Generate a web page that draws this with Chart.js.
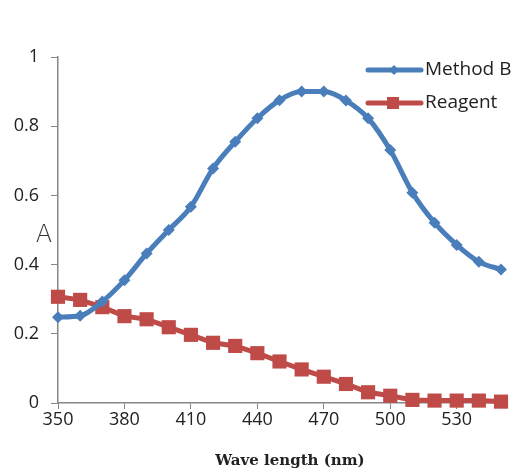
<!DOCTYPE html>
<html>
<head>
<meta charset="utf-8">
<script src="https://cdn.jsdelivr.net/npm/chart.js@4.4.0/dist/chart.umd.min.js"></script>
<style>
  html, body { margin: 0; padding: 0; background: #fff; }
  #wrap { width: 513px; height: 473px; }
</style>
</head>
<body>
<div id="wrap"><canvas id="chart" width="513" height="473"></canvas></div>
<script>
//wavelengths (nm)
const wavelengths = [350, 360, 370, 380, 390, 400, 410, 420, 430, 440, 450,
  460, 470, 480, 490, 500, 510, 520, 530, 540, 550];

//absorbance values
const methodB = [0.248, 0.252, 0.293, 0.355, 0.432, 0.500, 0.567, 0.678, 0.755, 0.823, 0.875,
  0.900, 0.900, 0.874, 0.823, 0.731, 0.608, 0.521, 0.457, 0.408, 0.386];
const reagent = [0.307, 0.298, 0.277, 0.251, 0.242, 0.219, 0.197, 0.174, 0.165, 0.144, 0.120,
  0.097, 0.076, 0.055, 0.031, 0.021, 0.009, 0.007, 0.007, 0.007, 0.004];

const xTicks = [350, 380, 410, 440, 470, 500, 530];
const yTicks = [0, 0.2, 0.4, 0.6, 0.8, 1];

const BLUE = "#4a7ebb";
const RED = "#be4b48";
const AXIS = "#868686";

//legend, "A" label and x title drawn by hand
const extras = {
  id: "extras",
  afterDraw(chart) {
    const c = chart.ctx;
    c.save();
    const rows = [
      { label: "Method B", color: BLUE, y: 70, style: "diamond" },
      { label: "Reagent", color: RED, y: 103, style: "square" }
    ];
    rows.forEach((r) => {
      c.strokeStyle = r.color;
      c.lineWidth = 5;
      c.lineCap = "round";
      c.beginPath();
      c.moveTo(368, r.y);
      c.lineTo(421, r.y);
      c.stroke();
      c.fillStyle = r.color;
      if (r.style === "square") {
        c.fillRect(387, r.y - 6, 12, 12);
      } else {
        c.beginPath();
        c.moveTo(394, r.y - 5);
        c.lineTo(399, r.y);
        c.lineTo(394, r.y + 5);
        c.lineTo(389, r.y);
        c.closePath();
        c.fill();
      }
      c.fillStyle = "#222";
      c.font = "19px 'Open Sans'";
      c.textBaseline = "middle";
      c.textAlign = "left";
      c.fillText(r.label, 425, r.y);
    });
    c.font = "300 24px 'DejaVu Sans'";
    c.fillStyle = "#333";
    c.textAlign = "center";
    c.textBaseline = "alphabetic";
    c.fillText("A", 44, 242);
    c.font = "bold 15px 'DejaVu Serif'";
    c.fillStyle = "#222";
    c.textBaseline = "middle";
    c.fillText("Wave length (nm)", 290, 461);
    c.restore();
  }
};

const ctx = document.getElementById("chart").getContext("2d");
new Chart(ctx, {
  type: "line",
  data: {
    datasets: [
      {
        label: "Method B",
        data: wavelengths.map((w, i) => ({ x: w, y: methodB[i] })),
        borderColor: BLUE,
        backgroundColor: BLUE,
        borderWidth: 5,
        pointStyle: "rectRot",
        pointRadius: 6,
        pointBorderWidth: 0,
        cubicInterpolationMode: "monotone",
        clip: false
      },
      {
        label: "Reagent",
        data: wavelengths.map((w, i) => ({ x: w, y: reagent[i] })),
        borderColor: RED,
        backgroundColor: RED,
        borderWidth: 5,
        pointStyle: "rect",
        pointRadius: 10,
        pointBorderWidth: 0,
        tension: 0,
        clip: false
      }
    ]
  },
  options: {
    responsive: false,
    animation: false,
    layout: { padding: { top: 57, right: 12, left: 0, bottom: 0 } },
    plugins: {
      legend: { display: false },
      tooltip: { enabled: false }
    },
    scales: {
      x: {
        type: "linear",
        min: 350,
        max: 550,
        afterBuildTicks: (scale) => { scale.ticks = xTicks.map((v) => ({ value: v })); },
        afterFit: (scale) => { scale.height = 70; },
        grid: { drawOnChartArea: false, color: AXIS, tickLength: 6 },
        border: { color: AXIS, width: 1.5 },
        ticks: { color: "#222", font: { family: "Open Sans", size: 18 }, padding: 0, maxRotation: 0 }
      },
      y: {
        min: 0,
        max: 1,
        afterBuildTicks: (scale) => { scale.ticks = yTicks.map((v) => ({ value: v })); },
        afterFit: (scale) => { scale.width = 58; },
        grid: { drawOnChartArea: false, color: AXIS, tickLength: 7 },
        border: { color: AXIS, width: 1.5 },
        ticks: {
          color: "#222",
          font: { family: "Open Sans", size: 18 },
          padding: 12,
          callback: (v) => String(Math.round(v * 10) / 10)
        }
      }
    }
  },
  plugins: [extras]
});
</script>
</body>
</html>
